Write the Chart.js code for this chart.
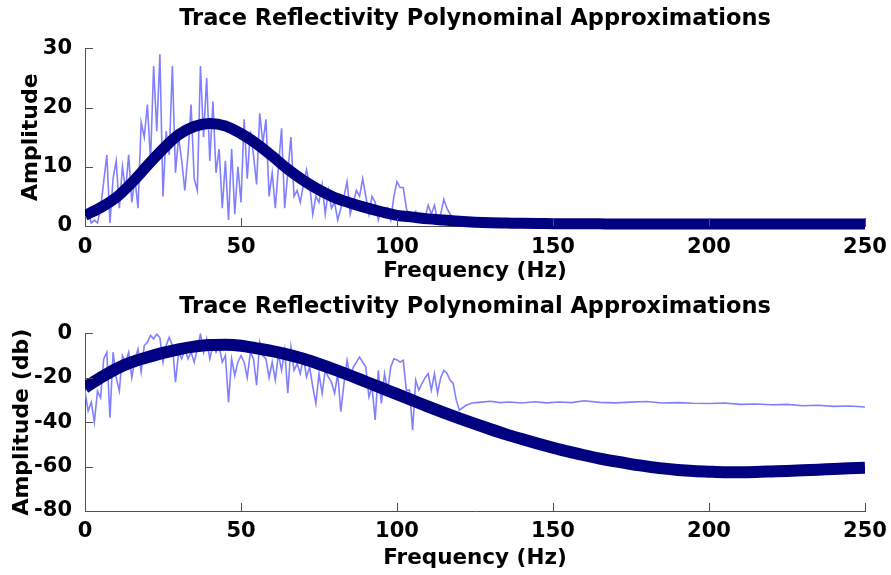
<!DOCTYPE html>
<html>
<head>
<meta charset="utf-8">
<title>Trace Reflectivity Polynominal Approximations</title>
<script src="https://cdn.jsdelivr.net/npm/chart.js@4.4.0/dist/chart.umd.min.js"></script>
<style>
  body { margin: 0; background: #fff; }
  canvas { position: absolute; left: 0; }
  #ampChart { top: 0; }
  #dbChart { top: 285px; }
</style>
</head>
<body>
<canvas id="ampChart" width="891" height="285"></canvas>
<canvas id="dbChart" width="891" height="290"></canvas>
<script>
// measured spectrum, 0-120 Hz every 1 Hz, then sparser up to 250 Hz
const noisyFreq = [
  0, 1, 2, 3, 4, 5, 6, 7, 8, 9,
  10, 11, 12, 13, 14, 15, 16, 17, 18, 19,
  20, 21, 22, 23, 24, 25, 26, 27, 28, 29,
  30, 31, 32, 33, 34, 35, 36, 37, 38, 39,
  40, 41, 42, 43, 44, 45, 46, 47, 48, 49,
  50, 51, 52, 53, 54, 55, 56, 57, 58, 59,
  60, 61, 62, 63, 64, 65, 66, 67, 68, 69,
  70, 71, 72, 73, 74, 75, 76, 77, 78, 79,
  80, 81, 82, 83, 84, 85, 86, 87, 88, 89,
  90, 91, 92, 93, 94, 95, 96, 97, 98, 99,
  100, 101, 102, 103, 104, 105, 106, 107, 108, 109,
  110, 111, 112, 113, 114, 115, 116, 117, 118, 119,
  120, 122, 124, 127, 130, 133, 136, 140, 144, 148,
  152, 156, 160, 165, 170, 175, 180, 185, 190, 195,
  200, 205, 210, 215, 220, 225, 230, 235, 240, 245, 250
];

const noisyAmp = [
  1.5, 2.5, 0.5, 1.0, 0.5, 3.0, 7.5, 12.0, 0.5, 8.0,
  11.0, 3.0, 10.0, 6.0, 12.0, 4.0, 8.0, 3.0, 17.5, 15.0,
  20.5, 11.0, 27.0, 16.0, 29.0, 5.0, 16.0, 12.0, 27.0, 9.0,
  15.0, 11.0, 6.0, 12.0, 20.5, 8.0, 6.0, 27.0, 15.0, 25.0,
  11.0, 21.0, 9.0, 13.0, 3.0, 11.0, 1.0, 13.0, 2.0, 10.0,
  4.0, 18.0, 8.0, 16.0, 12.0, 7.0, 19.0, 14.0, 18.0, 5.0,
  9.0, 3.0, 10.0, 16.5, 3.0, 9.0, 15.0, 5.0, 6.0, 4.0,
  7.0, 9.5, 7.0, 2.0, 5.0, 4.0, 7.0, 2.0, 6.0, 3.0,
  4.0, 1.0, 3.0, 5.0, 7.5, 2.0, 4.0, 6.0, 5.0, 8.0,
  5.0, 2.0, 5.0, 4.0, 1.0, 3.0, 2.0, 3.0, 1.0, 5.0,
  7.5, 6.5, 6.5, 3.0, 1.5, 2.0, 2.5, 1.0, 2.0, 1.5,
  3.5, 2.0, 3.5, 1.0, 2.0, 4.5, 3.0, 2.0, 1.5, 0.5,
  0.3, 0.7, 0.8, 0.85, 0.9, 0.8, 0.85, 0.8, 0.85, 0.8,
  0.85, 0.8, 0.9, 0.8, 0.8, 0.85, 0.8, 0.8, 0.8, 0.75,
  0.75, 0.78, 0.72, 0.74, 0.7, 0.72, 0.68, 0.7, 0.66, 0.68, 0.64
];

const noisyDb = [
  -26, -35, -31, -40, -26, -29, -11.5, -8.5, -38, -8.5,
  -20, -26, -10, -13, -8.5, -20, -11.5, -7, -17.5, -5.5,
  -4, -1, -2.5, -0.3, -2, -13, -5.5, -1.8, -5.5, -22,
  -8.5, -11.5, -7, -11.5, -8.5, -13, -7, -0.3, -8.5, -2.5,
  -11.5, -5.5, -8.5, -6, -13, -10, -31, -11.5, -19, -13,
  -10, -13, -20, -8.5, -11.5, -23.4, -4, -10, -11.5, -20,
  -13, -21, -9.2, -16.7, -7.7, -27, -6.2, -16.7, -13.7, -18.2,
  -10.7, -19.7, -15.2, -24, -31.6, -18.2, -27, -16.7, -19.7, -22,
  -27, -18.2, -35.3, -22.6, -12.2, -19.7, -15.2, -13, -10.7, -13,
  -15.2, -28.6, -24.1, -39, -16.7, -31.6, -18.2, -25.6, -15.2, -11.5,
  -12, -13, -12.2, -25.6, -25.6, -43.5, -21.1, -25.6, -22.6, -20,
  -18.2, -25.6, -18.2, -27, -20, -16.7, -18, -21.1, -22.6, -30.1,
  -34.6, -32.5, -31.4, -31.0, -30.6, -31.2, -30.9, -31.4, -30.8, -31.3,
  -30.9, -31.2, -30.4, -31.1, -31.3, -31.0, -30.7, -31.4, -31.2, -31.5,
  -31.6, -31.4, -32.0, -31.8, -32.2, -32.0, -32.6, -32.4, -32.9, -32.7, -33.2
];

// polynomial approximations, every 5 Hz
const fitFreq = [
  0, 5, 10, 15, 20, 25, 30, 35, 40, 45,
  50, 55, 60, 65, 70, 75, 80, 85, 90, 95,
  100, 105, 110, 115, 120, 125, 130, 135, 140, 145,
  150, 155, 160, 165, 170, 175, 180, 185, 190, 195,
  200, 205, 210, 215, 220, 225, 230, 235, 240, 245, 250
];

const fitAmp = [
  1.8, 3.1, 4.8, 7.3, 10.2, 13.0, 15.4, 16.8, 17.3, 16.9,
  15.6, 13.9, 11.8, 9.6, 7.7, 6.1, 4.8, 3.9, 3.1, 2.4,
  1.8, 1.5, 1.2, 1.0, 0.8, 0.65, 0.55, 0.5, 0.45, 0.42,
  0.4, 0.38, 0.37, 0.36, 0.35, 0.35, 0.34, 0.34, 0.33, 0.33,
  0.33, 0.33, 0.32, 0.32, 0.32, 0.32, 0.32, 0.32, 0.32, 0.32, 0.32
];

const fitDb = [
  -24.5, -20, -16, -13, -10.8, -8.8, -7.2, -6.0, -5.3, -5.2,
  -5.6, -6.8, -8.0, -9.6, -11.5, -13.8, -16.3, -19.0, -21.8, -24.6,
  -27.4, -30.2, -33.0, -35.7, -38.3, -40.8, -43.2, -45.5, -47.6, -49.6,
  -51.5, -53.3, -54.9, -56.4, -57.7, -58.9, -59.9, -60.8, -61.5, -62.0,
  -62.3, -62.5, -62.5, -62.4, -62.2, -62.0, -61.7, -61.4, -61.1, -60.8, -60.5
];

const xTicks = [0, 50, 100, 150, 200, 250];

const chartTitle = 'Trace Reflectivity Polynominal Approximations';
const axisColor = '#505050';
const fontFamily = "'DejaVu Sans', 'Liberation Sans', sans-serif";

function toPoints(xs, ys) {
  return xs.map((x, i) => ({ x: x, y: ys[i] }));
}

// MATLAB style tick marks pointing into the plot area
const inwardTicks = {
  id: 'inwardTicks',
  afterDraw(chart) {
    const { ctx, chartArea, scales } = chart;
    ctx.save();
    ctx.strokeStyle = axisColor;
    ctx.lineWidth = 1;
    ctx.beginPath();
    scales.x.ticks.forEach((t) => {
      const px = Math.round(scales.x.getPixelForValue(t.value)) + 0.5;
      ctx.moveTo(px, chartArea.bottom);
      ctx.lineTo(px, chartArea.bottom - 8);
    });
    scales.y.ticks.forEach((t) => {
      const py = Math.round(scales.y.getPixelForValue(t.value)) + 0.5;
      ctx.moveTo(chartArea.left, py);
      ctx.lineTo(chartArea.left + 8, py);
    });
    ctx.stroke();
    ctx.restore();
  },
};

Chart.register(inwardTicks);

function createPanel(id, p) {
  const ctx = document.getElementById(id).getContext('2d');
  return new Chart(ctx, {
    type: 'line',
    data: {
      datasets: [
        {
          label: 'Polynomial fit',
          data: toPoints(fitFreq, p.fit),
          borderColor: '#000080',
          borderWidth: p.fitWidth,
          pointRadius: 0,
          cubicInterpolationMode: 'monotone',
          clip: { left: 0, right: 0, top: 10, bottom: 10 },
        },
        {
          label: 'Spectrum',
          data: toPoints(noisyFreq, p.noisy),
          borderColor: '#8080ff',
          borderWidth: 1.6,
          pointRadius: 0,
          tension: 0,
        },
      ],
    },
    options: {
      responsive: false,
      animation: false,
      layout: { padding: { left: 0, right: 26, top: 0, bottom: 0 } },
      plugins: {
        legend: { display: false },
        tooltip: { enabled: false },
        title: {
          display: true,
          text: chartTitle,
          fullSize: false,
          color: '#000',
          font: { family: fontFamily, size: 22.5, weight: 'bold' },
          padding: p.titlePad,
        },
      },
      scales: {
        x: {
          type: 'linear',
          min: 0,
          max: 250,
          afterBuildTicks: (s) => { s.ticks = xTicks.map((v) => ({ value: v })); },
          afterFit: (s) => { s.height = p.xHeight; },
          grid: { display: false },
          border: { display: true, color: axisColor, width: 1 },
          ticks: {
            color: '#000',
            padding: p.xTickPad,
            font: { family: fontFamily, size: 21, weight: 'bold' },
          },
          title: {
            display: true,
            text: 'Frequency (Hz)',
            color: '#000',
            font: { family: fontFamily, size: 21.5, weight: 'bold' },
            padding: { top: 0, bottom: p.xTitlePad },
          },
        },
        y: {
          type: 'linear',
          min: p.yMin,
          max: p.yMax,
          afterBuildTicks: (s) => { s.ticks = p.yTicks.map((v) => ({ value: v })); },
          afterFit: (s) => { s.width = 85; },
          grid: { display: false },
          border: { display: true, color: axisColor, width: 1 },
          ticks: {
            color: '#000',
            padding: 5,
            font: { family: fontFamily, size: 21, weight: 'bold' },
          },
          title: {
            display: true,
            text: p.yLabel,
            color: '#000',
            font: { family: fontFamily, size: 22, weight: 'bold' },
            padding: { top: p.yTitlePad, bottom: 0 },
          },
        },
      },
    },
  });
}

createPanel('ampChart', {
  fit: fitAmp,
  noisy: noisyAmp,
  fitWidth: 11,
  yMin: 0,
  yMax: 30,
  yTicks: [0, 10, 20, 30],
  yLabel: 'Amplitude',
  yTitlePad: 17.6,
  titlePad: { top: 5.3, bottom: 16 },
  xHeight: 59,
  xTickPad: 1,
  xTitlePad: 0.6,
});

createPanel('dbChart', {
  fit: fitDb,
  noisy: noisyDb,
  fitWidth: 12,
  yMin: -80,
  yMax: 0,
  yTicks: [-80, -60, -40, -20, 0],
  yLabel: 'Amplitude (db)',
  yTitlePad: 9.3,
  titlePad: { top: 8.5, bottom: 12.8 },
  xHeight: 64,
  xTickPad: 0,
  xTitlePad: 3.8,
});
</script>
</body>
</html>
